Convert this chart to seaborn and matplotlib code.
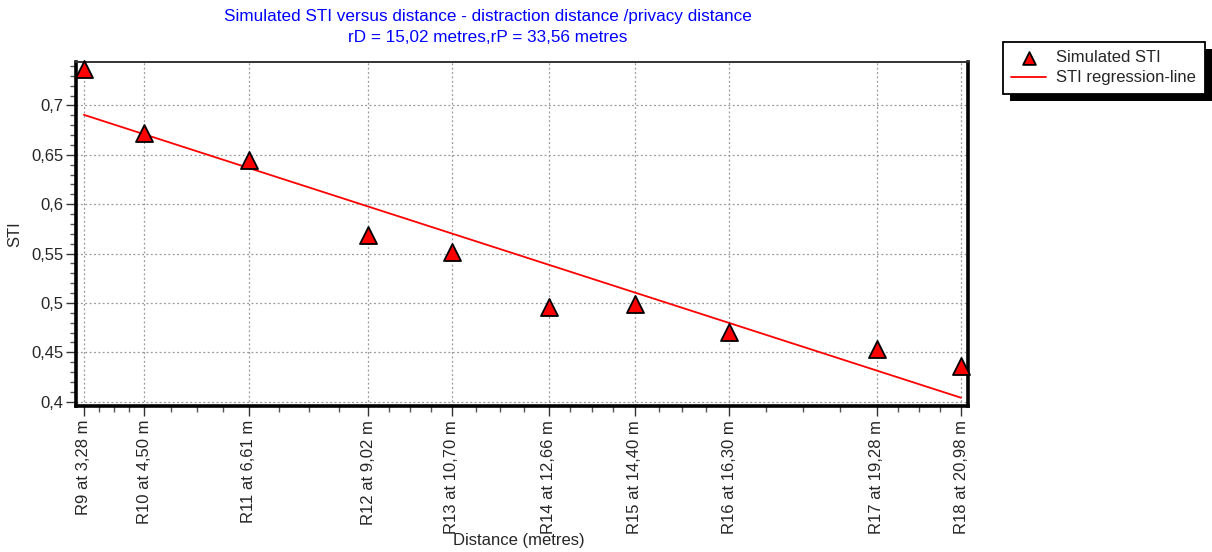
import numpy as np
import pandas as pd
import matplotlib
matplotlib.use("Agg")
import matplotlib.pyplot as plt
import seaborn as sns
from matplotlib.ticker import FixedLocator, MultipleLocator, FuncFormatter
from matplotlib.patches import Rectangle

receivers = ["R9", "R10", "R11", "R12", "R13", "R14", "R15", "R16", "R17", "R18"]
distances = [3.28, 4.50, 6.61, 9.02, 10.70, 12.66, 14.40, 16.30, 19.28, 20.98]
sti_values = [0.737, 0.672, 0.645, 0.569, 0.552, 0.496, 0.499, 0.471, 0.453, 0.436]
tick_labels = [f"{r} at {d:.2f} m".replace(".", ",") for r, d in zip(receivers, distances)]

title_line1 = "Simulated STI versus distance - distraction distance /privacy distance"
title_line2 = "rD = 15,02 metres,rP = 33,56 metres"

df = pd.DataFrame({"distance": distances, "sti": sti_values})

sns.set_style("white")
plt.rcParams["font.family"] = ["Liberation Sans", "DejaVu Sans"]

W, H = 1212, 552
fig = plt.figure(figsize=(W/100, H/100), dpi=100)
ax = fig.add_axes([76/W, 1-406/H, (968-76)/W, (406-62)/H])

sns.regplot(data=df, x="distance", y="sti", ax=ax, ci=None, scatter=False,
            truncate=True, line_kws=dict(color="red", lw=1.3, zorder=3),
            label="STI regression-line")
sns.scatterplot(data=df, x="distance", y="sti", ax=ax, marker="^", s=150,
                color="red", edgecolor="black", linewidth=1.3, zorder=5,
                label="Simulated STI", clip_on=False)

ax.set_xlim(3.12, 21.12)
ax.set_ylim(0.3956, 0.744)

ax.xaxis.set_major_locator(FixedLocator(distances))
ax.set_xticklabels(tick_labels, rotation=90, fontsize=12)
minor_x = []
for a, b in zip(distances[:-1], distances[1:]):
    minor_x.extend(np.linspace(a, b, 5)[1:-1])
ax.xaxis.set_minor_locator(FixedLocator(minor_x))

ax.yaxis.set_major_locator(MultipleLocator(0.05))
ax.yaxis.set_minor_locator(MultipleLocator(0.01))
ax.yaxis.set_major_formatter(FuncFormatter(lambda v, p: f"{v:.2f}".rstrip("0").replace(".", ",")))
ax.tick_params(axis="y", labelsize=12, pad=2)
ax.tick_params(axis="x", pad=3)

ax.tick_params(which="major", direction="out", length=7, width=1, color="#333333",
               bottom=True, left=True)
ax.tick_params(which="minor", direction="out", length=4, width=1, color="#555555",
               bottom=True, left=True)

ax.grid(True, which="major", linestyle=(0, (1.5, 2)), color="#999999", lw=0.9)
ax.set_axisbelow(True)

for side in ["left", "bottom", "right"]:
    ax.spines[side].set_linewidth(2.6)
    ax.spines[side].set_color("black")
ax.spines["top"].set_linewidth(1.4)
ax.spines["top"].set_color("#333333")

ax.set_xlabel("Distance (metres)", fontsize=12)
ax.xaxis.set_label_coords((519-76)/(968-76), (406-540)/(406-62))
ax.xaxis.label.set_va("center")
ax.set_ylabel("STI", fontsize=12)
ax.yaxis.set_label_coords((15-76)/(968-76), 0.5)
ax.yaxis.label.set_va("center")

fig.text(488/W, 1-17/H, title_line1, color="blue", fontsize=12.3,
         ha="center", va="center")
fig.text(488/W, 1-38/H, title_line2, color="blue", fontsize=12.3,
         ha="center", va="center")

handles, labels = ax.get_legend_handles_labels()
order = [labels.index("Simulated STI"), labels.index("STI regression-line")]
if ax.legend_:
    ax.legend_.remove()
leg = fig.legend([handles[i] for i in order], [labels[i] for i in order],
                 loc="upper left", bbox_to_anchor=(1003/W, 1-42/H),
                 frameon=True, fancybox=False, framealpha=1.0, fontsize=12,
                 borderpad=0.5, borderaxespad=0, handlelength=2.1,
                 handletextpad=0.6, labelspacing=0.3, markerscale=0.75)
leg.get_frame().set_edgecolor("black")
leg.get_frame().set_facecolor("white")
leg.get_frame().set_linewidth(1.3)
leg.set_zorder(10)

fig.canvas.draw()
bb = leg.get_window_extent()
shadow = Rectangle((bb.x0 + 7, bb.y0 - 7), bb.width, bb.height,
                   transform=None, facecolor="black", edgecolor="none", zorder=9)
fig.add_artist(shadow)

fig.savefig("out.png", dpi=100)
